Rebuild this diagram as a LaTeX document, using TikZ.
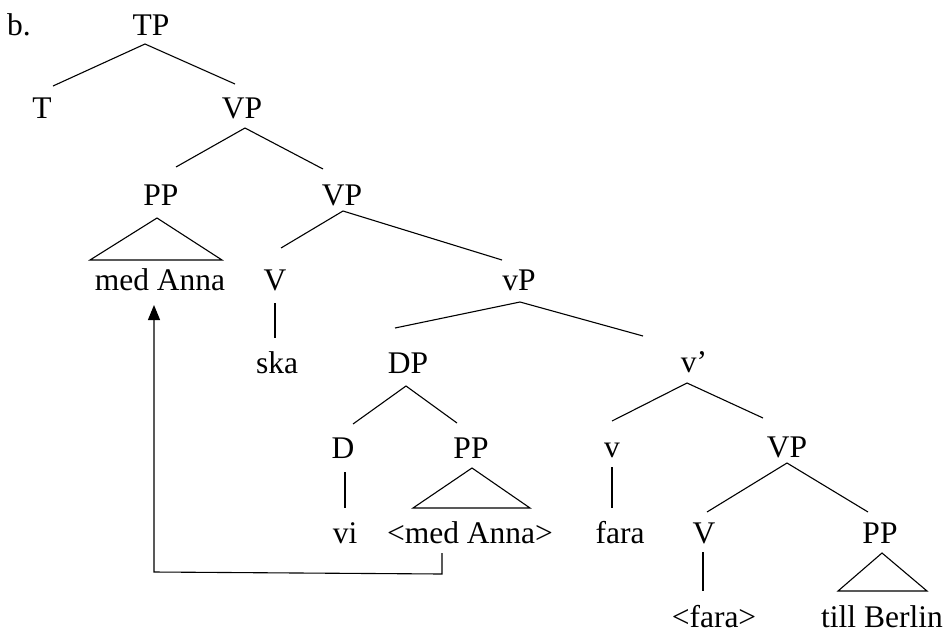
\documentclass[tikz,border=0pt]{standalone}
\usepackage{fontspec}
\setmainfont{Liberation Serif}
\usetikzlibrary{arrows.meta}
\begin{document}
\begin{tikzpicture}[x=1pt,y=-1pt,
  lbl/.style={inner sep=0pt,anchor=base,font=\fontsize{31.5}{38}\selectfont},
  edge/.style={line width=1.1pt},
  move/.style={line width=1.1pt,-{Triangle[length=15pt,width=12pt]}}]
\useasboundingbox (0,0) rectangle (949,632);
% labels
\node[lbl,anchor=base west] (b) at (7,35) {b.};
\node[lbl] (TP) at (151,35) {TP};
\node[lbl] (T) at (42,118) {T};
\node[lbl] (VPa) at (242,118) {VP};
\node[lbl] (PPa) at (161,205) {PP};
\node[lbl] (VPb) at (342,205) {VP};
\node[lbl] (medAnna) at (160,290) {med Anna};
\node[lbl] (Va) at (275,290) {V};
\node[lbl] (vP) at (519,290) {vP};
\node[lbl] (ska) at (277,373) {ska};
\node[lbl] (DP) at (408,373) {DP};
\node[lbl] (vbar) at (694,372) {v’};
\node[lbl] (D) at (343,458) {D};
\node[lbl] (PPb) at (471,458) {PP};
\node[lbl] (vhead) at (612,457) {v};
\node[lbl] (VPc) at (787,457) {VP};
\node[lbl] (vi) at (345,543) {vi};
\node[lbl] (medAnnaT) at (470,543) {<med Anna>};
\node[lbl] (fara) at (620,543) {fara};
\node[lbl] (Vb) at (704,543) {V};
\node[lbl] (PPc) at (880,543) {PP};
\node[lbl] (faraT) at (714,627) {<fara>};
\node[lbl] (tillBerlin) at (882,627) {till Berlin};
% branches
\draw[edge] ([shift={(11,-32)}]T.base) -- ([shift={(-6,9)}]TP.base) -- ([shift={(-7,-34)}]VPa.base);
\draw[edge] ([shift={(15,-38)}]PPa.base) -- ([shift={(3,10)}]VPa.base) -- ([shift={(-19,-36)}]VPb.base);
\draw[edge] ([shift={(-70,-30)}]medAnna.base) -- ([shift={(-4,13)}]PPa.base) -- ([shift={(62,-30)}]medAnna.base) -- cycle;
\draw[edge] ([shift={(6,-42)}]Va.base) -- ([shift={(1,6)}]VPb.base) -- ([shift={(-17,-30)}]vP.base);
\draw[edge] ([shift={(0,13)}]Va.base) -- ([shift={(-2,-35)}]ska.base);
\draw[edge] ([shift={(-13,-45)}]DP.base) -- ([shift={(1,12)}]vP.base) -- ([shift={(-51,-36)}]vbar.base);
\draw[edge] ([shift={(10,-34)}]D.base) -- ([shift={(-2,13)}]DP.base) -- ([shift={(-14,-35)}]PPb.base);
\draw[edge] ([shift={(0,-36)}]vhead.base) -- ([shift={(-7,11)}]vbar.base) -- ([shift={(-24,-39)}]VPc.base);
\draw[edge] ([shift={(2,14)}]D.base) -- ([shift={(0,-35)}]vi.base);
\draw[edge] ([shift={(-57,-35)}]medAnnaT.base) -- ([shift={(1,10)}]PPb.base) -- ([shift={(60,-35)}]medAnnaT.base) -- cycle;
\draw[edge] ([shift={(0,10)}]vhead.base) -- ([shift={(-8,-35)}]fara.base);
\draw[edge] ([shift={(3,-31)}]Vb.base) -- ([shift={(0,6)}]VPc.base) -- ([shift={(-12,-31)}]PPc.base);
\draw[edge] ([shift={(-1,9)}]Vb.base) -- ([shift={(-11,-36)}]faraT.base);
\draw[edge] ([shift={(-44,-36)}]tillBerlin.base) -- ([shift={(2,10)}]PPc.base) -- ([shift={(45,-36)}]tillBerlin.base) -- cycle;
% movement arrow
\draw[move] ([shift={(-28,10)}]medAnnaT.base) -- ([shift={(-28,31)}]medAnnaT.base) -- ([shift={(-6,282)}]medAnna.base) -- ([shift={(-6,15)}]medAnna.base);
\end{tikzpicture}
\end{document}
